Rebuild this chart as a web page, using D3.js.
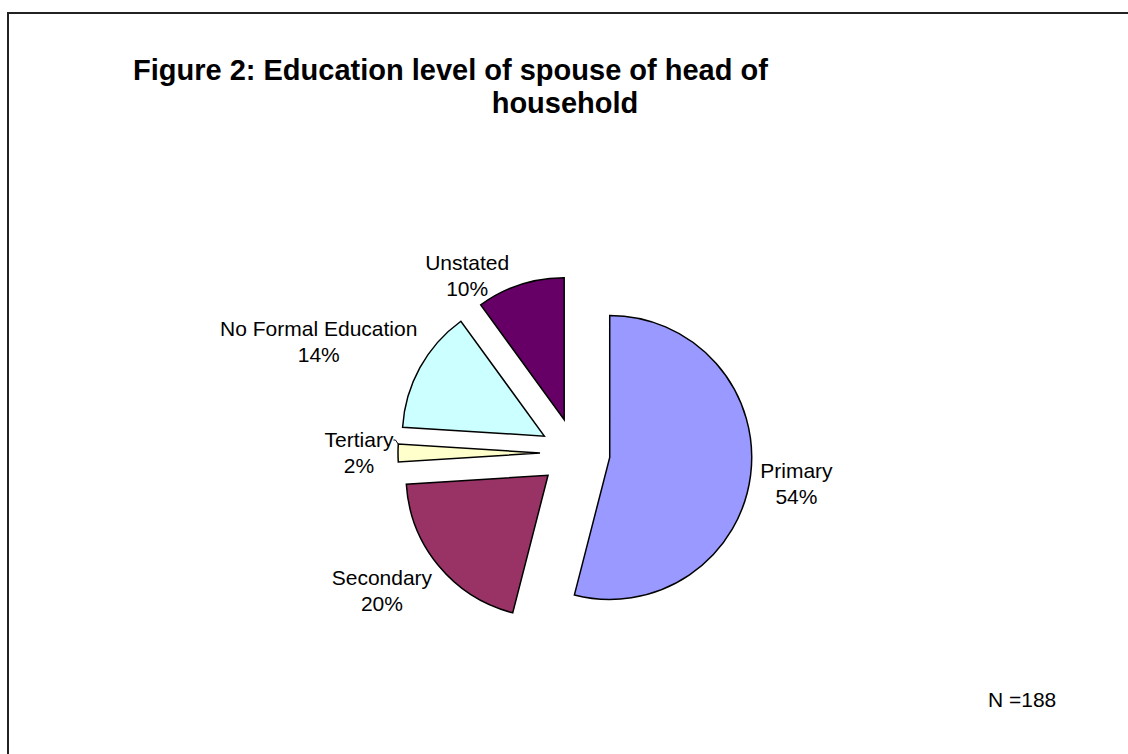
<!DOCTYPE html>
<html>
<head>
<meta charset="utf-8">
<script src="https://cdn.jsdelivr.net/npm/d3@7"></script>
<style>
  body { margin: 0; background: #fff; }
  svg text { font-family: "Liberation Sans", Arial, Helvetica, sans-serif; fill: #000; }
</style>
</head>
<body>
<svg id="chart" width="1128" height="754"></svg>
<script>
const categories = ['Primary', 'Secondary', 'Tertiary', 'No Formal Education', 'Unstated']
const shares     = [54, 20, 2, 14, 10]
const colors     = ['#9999ff', '#993366', '#ffffcc', '#ccffff', '#660066']
const titleLines = ['Figure 2: Education level of spouse of head of', 'household']
const note       = 'N =188'

const svg = d3.select('#chart')

// frame round the whole figure (runs off the right and bottom edges)
svg.append('rect')
    .attr('x', 8).attr('y', 13)
    .attr('width', 1200).attr('height', 800)
    .attr('fill', 'none')
    .attr('stroke', '#222')
    .attr('stroke-width', 2)

svg.append('text')
    .attr('x', 133).attr('y', 80)
    .style('font-size', '29px')
    .style('font-weight', 'bold')
    .text(titleLines[0])

svg.append('text')
    .attr('x', 565).attr('y', 113)
    .attr('text-anchor', 'middle')
    .style('font-size', '29px')
    .style('font-weight', 'bold')
    .text(titleLines[1])

svg.append('text')
    .attr('x', 988).attr('y', 707)
    .style('font-size', '21px')
    .text(note)

const cx = 575, cy = 453
const radius  = 142
const explode = 35
const labelR  = 200
const lineH   = 26
// hand-placed label nudges, like the original chart
const nudges  = [[23, 6], [-39, 11], [-16, 0], [-81, -15], [-46, 13]]

const rows = categories.map((c, i) => ({ name: c, value: shares[i], color: colors[i], i }))

const pie = d3.pie().sort(null).value(d => d.value)
const arc = d3.arc().innerRadius(0).outerRadius(radius)
const dir = a => [Math.sin(a), -Math.cos(a)]

const root = svg.append('g').attr('transform', `translate(${cx}, ${cy})`)

const slices = root.selectAll('.slice').data(pie(rows))

slices.enter().append('path')
    .attr('class', 'slice')
    .attr('d', arc)
    .attr('fill', d => d.data.color)
    .attr('stroke', '#000')
    .attr('stroke-width', 1.5)
    .attr('stroke-linejoin', 'miter')
    .attr('transform', d => {
        const [x, y] = dir((d.startAngle + d.endAngle) / 2)
        return `translate(${x * explode}, ${y * explode})`
    })

const labels = root.selectAll('.label').data(pie(rows))

labels.enter().append('text')
    .attr('class', 'label')
    .attr('text-anchor', 'middle')
    .style('font-size', '21px')
    .each(function (d) {
        const [x, y] = dir((d.startAngle + d.endAngle) / 2)
        const [nx, ny] = nudges[d.data.i]
        const lx = x * labelR + nx
        const ly = y * labelR + ny
        const el = d3.select(this)

        el.append('tspan')
            .attr('x', lx)
            .attr('y', ly - lineH / 2 + 7)
            .text(d.data.name)

        el.append('tspan')
            .attr('x', lx)
            .attr('y', ly + lineH / 2 + 7)
            .text(d.data.value + '%')
    })

// short leader line for the thin Tertiary slice
pie(rows).filter(d => d.data.name === 'Tertiary').forEach(d => {
    const mid = (d.startAngle + d.endAngle) / 2
    const [x, y] = dir(mid)
    const [nx, ny] = nudges[d.data.i]
    const textEl = root.selectAll('.label').filter(e => e.data.i === d.data.i).node()
    const w = textEl.querySelector('tspan').getComputedTextLength()
    const tx = x * labelR + nx + w / 2
    const ty = y * labelR + ny - lineH / 2
    const [ex, ey] = dir(d.endAngle)
    const px = x * explode + ex * radius
    const py = y * explode + ey * radius
    root.append('path')
        .attr('d', d3.line()([[tx, ty], [tx + 2, ty], [px, py]]))
        .attr('fill', 'none')
        .attr('stroke', '#000')
        .attr('stroke-width', 1)
})
</script>
</body>
</html>
